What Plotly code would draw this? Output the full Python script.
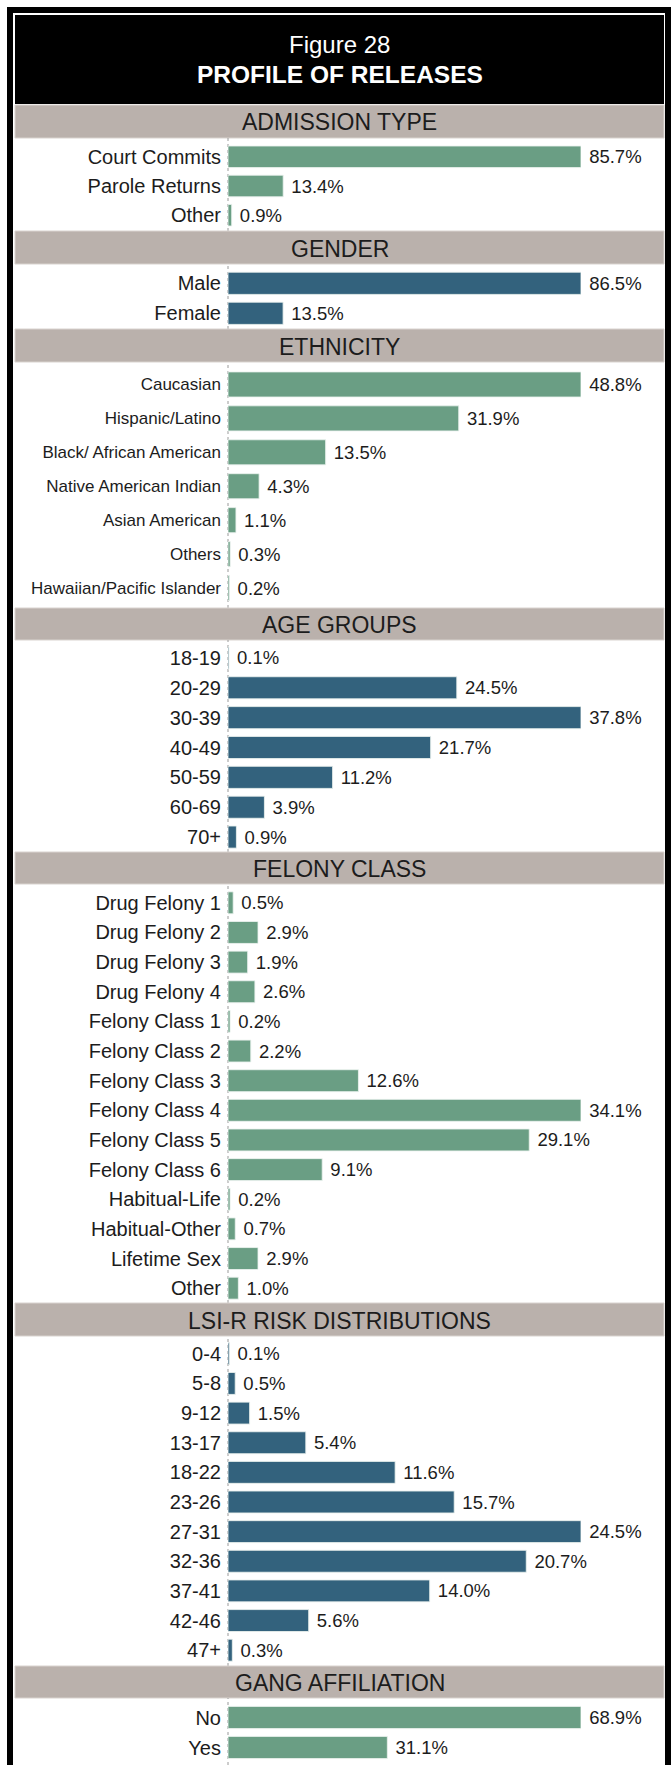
import plotly.graph_objects as go

W, H = 671, 1765
GREEN = "#6A9E84"
BLUE = "#33627D"
BAND = "#BAB1AC"
FONT = "Liberation Sans, Arial, Helvetica, sans-serif"
TXT = "#1c1c1c"

# ---------------- data ----------------
adm_cats = ["Court Commits", "Parole Returns", "Other"]
adm_vals = [85.7, 13.4, 0.9]

gender_cats = ["Male", "Female"]
gender_vals = [86.5, 13.5]

eth_cats = ["Caucasian", "Hispanic/Latino", "Black/ African American",
            "Native American Indian", "Asian American", "Others",
            "Hawaiian/Pacific Islander"]
eth_vals = [48.8, 31.9, 13.5, 4.3, 1.1, 0.3, 0.2]

age_cats = ["18-19", "20-29", "30-39", "40-49", "50-59", "60-69", "70+"]
age_vals = [0.1, 24.5, 37.8, 21.7, 11.2, 3.9, 0.9]

fel_cats = ["Drug Felony 1", "Drug Felony 2", "Drug Felony 3", "Drug Felony 4",
            "Felony Class 1", "Felony Class 2", "Felony Class 3", "Felony Class 4",
            "Felony Class 5", "Felony Class 6", "Habitual-Life", "Habitual-Other",
            "Lifetime Sex", "Other"]
fel_vals = [0.5, 2.9, 1.9, 2.6, 0.2, 2.2, 12.6, 34.1, 29.1, 9.1, 0.2, 0.7, 2.9, 1.0]

lsi_cats = ["0-4", "5-8", "9-12", "13-17", "18-22", "23-26", "27-31",
            "32-36", "37-41", "42-46", "47+"]
lsi_vals = [0.1, 0.5, 1.5, 5.4, 11.6, 15.7, 24.5, 20.7, 14.0, 5.6, 0.3]

gang_cats = ["No", "Yes"]
gang_vals = [68.9, 31.1]

fig_title_1 = "Figure 28"
fig_title_2 = "PROFILE OF RELEASES"

# ---------------- layout (pixel geometry) ----------------
# title, cats, vals, color, band (top, bottom), plot (top, bottom), label size
sections = [
    ("ADMISSION TYPE", adm_cats, adm_vals, GREEN, (105, 138), (142.2, 229.8), 20),
    ("GENDER", gender_cats, gender_vals, BLUE, (231, 264), (268.3, 328.3), 20),
    ("ETHNICITY", eth_cats, eth_vals, GREEN, (329, 362), (367.5, 605), 17),
    ("AGE GROUPS", age_cats, age_vals, BLUE, (608, 640), (643, 852), 20),
    ("FELONY CLASS", fel_cats, fel_vals, GREEN, (852, 884), (888, 1303), 20),
    ("LSI-R RISK DISTRIBUTIONS", lsi_cats, lsi_vals, BLUE, (1303, 1336), (1339, 1665), 20),
    ("GANG AFFILIATION", gang_cats, gang_vals, GREEN, (1666, 1698), (1702.5, 1762.5), 20),
]

AX_L, AX_R = 228, 581
IN_L, IN_R = 15, 664


def px(x):
    return x / W


def py(y):
    return 1 - y / H


fig = go.Figure()
shapes = []
annotations = []

# outer frame (left, right, top thick black borders)
shapes.append(dict(type="rect", xref="paper", yref="paper", x0=px(7), x1=px(13),
                   y0=py(H), y1=py(7), fillcolor="black", line_width=0, layer="below"))
shapes.append(dict(type="rect", xref="paper", yref="paper", x0=px(665), x1=px(671),
                   y0=py(H), y1=py(7), fillcolor="black", line_width=0, layer="below"))
shapes.append(dict(type="rect", xref="paper", yref="paper", x0=px(7), x1=px(671),
                   y0=py(13), y1=py(7), fillcolor="black", line_width=0, layer="below"))
# header
shapes.append(dict(type="rect", xref="paper", yref="paper", x0=px(IN_L), x1=px(IN_R),
                   y0=py(104), y1=py(15), fillcolor="black", line_width=0, layer="below"))
annotations.append(dict(text=fig_title_1, xref="paper", yref="paper", x=px((IN_L + IN_R) / 2),
                        y=py(44), showarrow=False, xanchor="center", yanchor="middle",
                        font=dict(family=FONT, size=24, color="white")))
annotations.append(dict(text="<b>" + fig_title_2 + "</b>", xref="paper", yref="paper",
                        x=px((IN_L + IN_R) / 2), y=py(74), showarrow=False,
                        xanchor="center", yanchor="middle",
                        font=dict(family=FONT, size=24.5, color="white")))

for i, (title, cats, vals, color, band, plot, lsize) in enumerate(sections):
    n = i + 1
    xa = "x" if n == 1 else f"x{n}"
    ya = "y" if n == 1 else f"y{n}"

    # gray band with title
    shapes.append(dict(type="rect", xref="paper", yref="paper", x0=px(IN_L), x1=px(IN_R),
                       y0=py(band[1]), y1=py(band[0]), fillcolor=BAND,
                       line=dict(color="#D9D3CF", width=1), layer="below"))
    annotations.append(dict(text=title, xref="paper", yref="paper",
                            x=px((IN_L + IN_R) / 2), y=py((band[0] + band[1]) / 2 + 1),
                            showarrow=False, xanchor="center", yanchor="middle",
                            font=dict(family=FONT, size=23, color=TXT)))
    # dotted axis line
    next_top = sections[i + 1][4][0] if i + 1 < len(sections) else H
    shapes.append(dict(type="line", xref="paper", yref="paper", x0=px(AX_L), x1=px(AX_L),
                       y0=py(next_top), y1=py(band[1]),
                       line=dict(color="#9a9a9a", width=1, dash="dot"), layer="below"))

    fig.add_trace(go.Bar(
        x=vals, y=cats, orientation="h", xaxis=xa, yaxis=ya,
        marker=dict(color=color, line=dict(color="rgba(235,242,238,0.85)", width=1)),
        texttemplate="\u00a0%{x:.1f}%", textposition="outside", cliponaxis=False,
        constraintext="none",
        textfont=dict(family=FONT, size=18.5, color=TXT),
        hoverinfo="skip", showlegend=False,
    ))

    fig.layout[("xaxis" if n == 1 else f"xaxis{n}")] = dict(
        domain=[px(AX_L), px(AX_R)], range=[0, max(vals)], visible=False,
        anchor=ya, fixedrange=True)
    fig.layout[("yaxis" if n == 1 else f"yaxis{n}")] = dict(
        domain=[py(plot[1]), py(plot[0])], type="category",
        categoryorder="array", categoryarray=cats,
        range=[len(cats) - 0.5, -0.5], anchor=xa,
        showline=False, showgrid=False, zeroline=False, ticks="",
        ticklabelstandoff=6,
        tickfont=dict(family=FONT, size=lsize, color=TXT), fixedrange=True)

fig.update_layout(
    width=W, height=H, margin=dict(l=0, r=0, t=0, b=0),
    paper_bgcolor="white", plot_bgcolor="rgba(0,0,0,0)",
    bargap=0.26, shapes=shapes, annotations=annotations,
    font=dict(family=FONT, color=TXT),
)

fig.write_html("out.html", config={"displayModeBar": False},
               post_script="document.body.style.margin='0';document.body.style.overflow='hidden';")
